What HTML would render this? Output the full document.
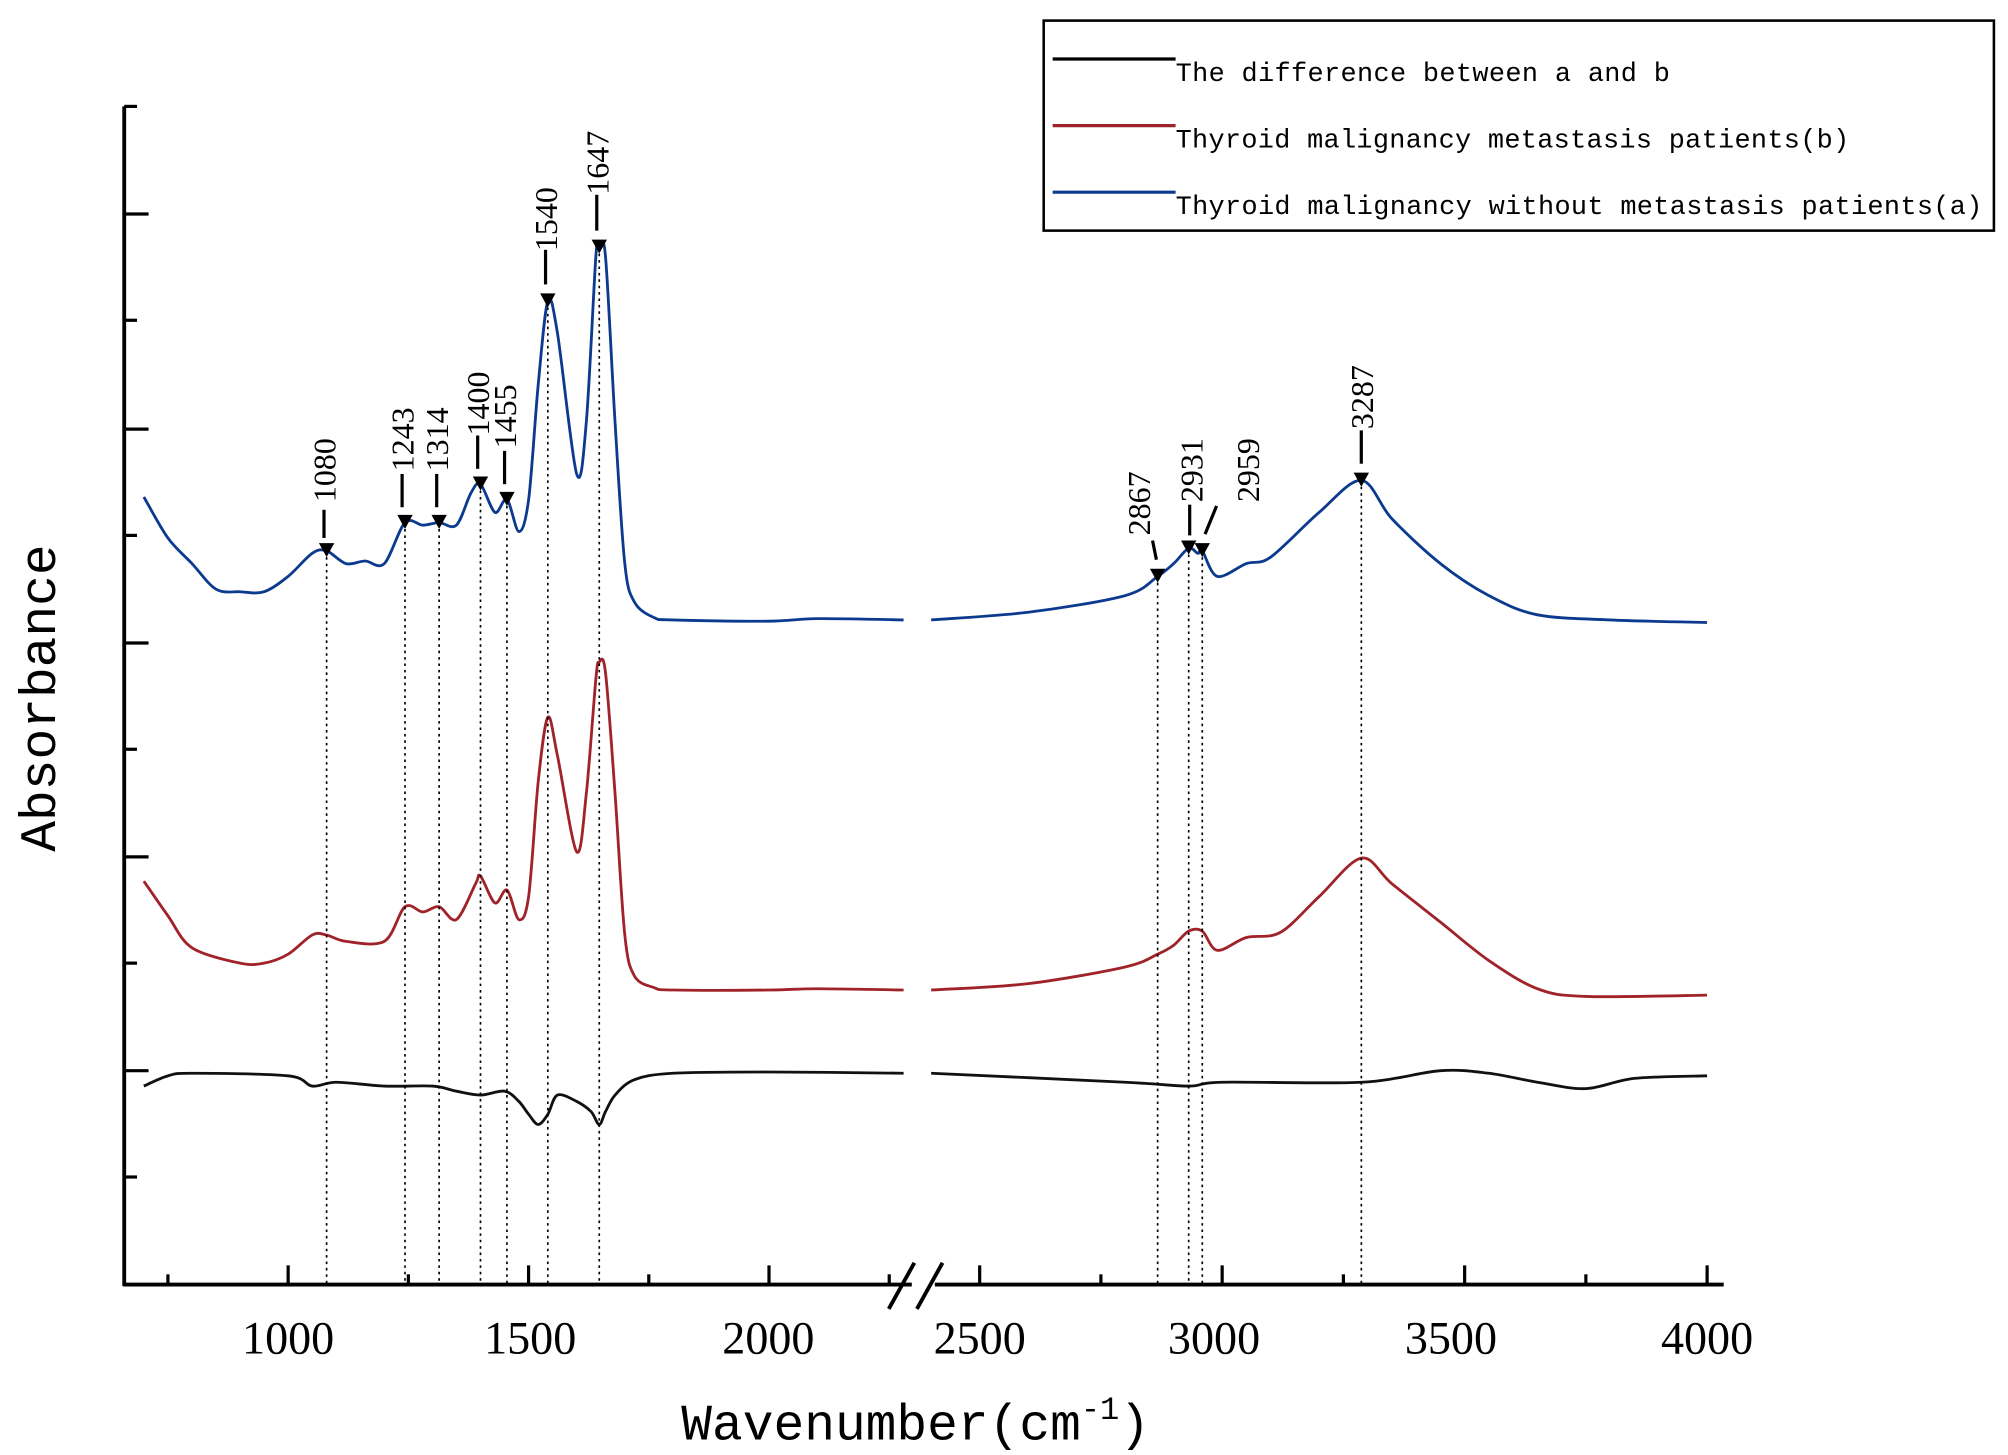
<!DOCTYPE html>
<html><head><meta charset="utf-8"><style>
html,body{margin:0;padding:0;background:#fff;}
svg{display:block;}
</style></head><body>
<svg id="s" width="2008" height="1455" viewBox="0 0 1568 1136" xmlns="http://www.w3.org/2000/svg" font-family="'Liberation Serif', serif">
<rect width="1568" height="1136" fill="#fff"/>
<g id="curves"></g>
<g id="guides" stroke="#000" stroke-width="1.3" stroke-dasharray="2,3"></g>
<g id="marks" fill="#000"></g>
<g stroke="#000" stroke-width="3" fill="none">
<line x1="97" y1="83" x2="97" y2="1004"/>
<line x1="96" y1="1003" x2="712" y2="1003"/>
<line x1="730" y1="1003" x2="1346" y2="1003"/>
<line x1="694" y1="1022" x2="714" y2="986"/>
<line x1="716" y1="1022" x2="736" y2="986"/>
</g>
<g id="ticks" stroke="#000" stroke-width="2.5"></g>
<g font-size="36" text-anchor="middle" fill="#000">
<text x="225" y="1057">1000</text><text x="414" y="1057">1500</text><text x="600" y="1057">2000</text>
<text x="765" y="1057">2500</text><text x="948" y="1057">3000</text><text x="1133" y="1057">3500</text><text x="1333" y="1057">4000</text>
</g>
<text x="715" y="1124" font-size="40" text-anchor="middle" font-family="'Liberation Mono', monospace">Wavenumber(cm<tspan font-size="25" dy="-16">-1</tspan><tspan dy="16">)</tspan></text>
<text transform="translate(43,545) rotate(-90)" font-size="40" text-anchor="middle" font-family="'Liberation Mono', monospace">Absorbance</text>
<g font-size="25" fill="#000">
<text transform="translate(262,392) rotate(-90)">1080</text>
<text transform="translate(323,368) rotate(-90)">1243</text>
<text transform="translate(350,368) rotate(-90)">1314</text>
<text transform="translate(382,340) rotate(-90)">1400</text>
<text transform="translate(403,350) rotate(-90)">1455</text>
<text transform="translate(435,196) rotate(-90)">1540</text>
<text transform="translate(475,152) rotate(-90)">1647</text>
<text transform="translate(898,418) rotate(-90)">2867</text>
<text transform="translate(939,392) rotate(-90)">2931</text>
<text transform="translate(983,392) rotate(-90)">2959</text>
<text transform="translate(1072,335) rotate(-90)">3287</text>
</g>
<g stroke="#000" stroke-width="2.5">
<line x1="253" y1="398" x2="253" y2="420"/>
<line x1="314" y1="370" x2="314" y2="396"/>
<line x1="341" y1="370" x2="341" y2="396"/>
<line x1="373" y1="340" x2="373" y2="366"/>
<line x1="394" y1="352" x2="394" y2="378"/>
<line x1="426" y1="195" x2="426" y2="222"/>
<line x1="466" y1="152" x2="466" y2="180"/>
<line x1="900" y1="422" x2="903" y2="437"/>
<line x1="929" y1="394" x2="929" y2="418"/>
<line x1="950" y1="395" x2="941" y2="417"/>
<line x1="1063" y1="336" x2="1063" y2="362"/>
</g>
<rect x="815" y="16" width="742" height="164" fill="#fff" stroke="#000" stroke-width="2"/>
<g stroke-width="2.5">
<line x1="822" y1="46" x2="918" y2="46" stroke="#000"/>
<line x1="822" y1="98" x2="918" y2="98" stroke="#a0232a"/>
<line x1="822" y1="150" x2="918" y2="150" stroke="#0b3a8f"/>
</g>
<g font-size="21" font-family="'Liberation Mono', monospace" fill="#000">
<text x="918" y="63" textLength="386">The difference between a and b</text>
<text x="918" y="115" textLength="526">Thyroid malignancy metastasis patients(b)</text>
<text x="918" y="167" textLength="630">Thyroid malignancy without metastasis patients(a)</text>
</g>
</svg>
<script>
function X(v){return v<=2300?225+(v-1000)*0.3755:765+(v-2500)*0.3787;}
var blue=[[700,388],[750,420],[800,440],[850,460],[900,462],[950,462],[1000,450],[1050,432],[1080,430],[1120,440],[1160,438],[1200,440],[1243,408],[1280,410],[1314,408],[1350,410],[1380,385],[1400,378],[1430,400],[1455,390],[1480,415],[1500,390],[1520,300],[1540,235],[1560,260],[1600,370],[1620,330],[1640,200],[1647,193],[1660,200],[1680,330],[1700,440],[1720,470],[1760,482],[1800,484],[2000,485],[2100,483],[2280,484]];
var blueR=[[2400,484],[2600,478],[2800,465],[2867,450],[2900,440],[2931,428],[2950,432],[2959,430],[2990,450],[3050,440],[3100,435],[3200,400],[3287,375],[3350,405],[3450,440],[3550,465],[3650,480],[3800,484],[4000,486]];
var red=[[700,688],[750,715],[800,740],[900,752],[950,752],[1000,745],[1050,730],[1080,730],[1120,735],[1200,735],[1243,708],[1280,712],[1314,708],[1350,718],[1390,690],[1400,684],[1430,705],[1455,695],[1480,718],[1500,700],[1520,610],[1540,560],[1560,590],[1600,665],[1620,620],[1640,530],[1647,517],[1660,525],[1680,620],[1700,730],[1720,762],[1760,771],[1800,773],[2000,773],[2100,772],[2280,773]];
var redR=[[2400,773],[2600,768],[2800,755],[2867,745],[2900,738],[2931,727],[2959,727],[2990,742],[3050,732],[3120,728],[3200,700],[3287,670],[3350,690],[3450,720],[3550,750],[3650,772],[3750,778],[4000,777]];
var blk=[[700,848],[750,840],[800,838],[1000,840],[1050,848],[1100,845],[1200,848],[1300,848],[1350,852],[1400,855],[1450,852],[1480,860],[1500,870],[1520,878],[1540,870],[1560,855],[1600,860],[1630,868],[1647,878],[1660,868],[1680,855],[1720,843],[1800,838],[2000,837],[2280,838]];
var blkR=[[2400,838],[2800,845],[2931,848],[3000,845],[3287,845],[3450,836],[3550,838],[3650,845],[3750,850],[3850,842],[4000,840]];
function path(p){var q=p.map(function(a){return [X(a[0]),a[1]];});var d='M'+q[0][0].toFixed(1)+','+q[0][1];
for(var i=0;i<q.length-1;i++){var p0=q[i-1]||q[i],p1=q[i],p2=q[i+1],p3=q[i+2]||p2;var t=0.16;
var c1=[p1[0]+(p2[0]-p0[0])*t,p1[1]+(p2[1]-p0[1])*t],c2=[p2[0]-(p3[0]-p1[0])*t,p2[1]-(p3[1]-p1[1])*t];
d+=' C'+c1[0].toFixed(1)+','+c1[1].toFixed(1)+' '+c2[0].toFixed(1)+','+c2[1].toFixed(1)+' '+p2[0].toFixed(1)+','+p2[1];}return d;}
var ns='http://www.w3.org/2000/svg',g=document.getElementById('curves');
[[blue,'#0b3a8f'],[blueR,'#0b3a8f'],[red,'#a0232a'],[redR,'#a0232a'],[blk,'#111'],[blkR,'#111']].forEach(function(a){var e=document.createElementNS(ns,'path');e.setAttribute('d',path(a[0]));e.setAttribute('fill','none');e.setAttribute('stroke',a[1]);e.setAttribute('stroke-width','2.2');e.setAttribute('stroke-linejoin','round');g.appendChild(e);});
var pk=[[1080,430],[1243,408],[1314,408],[1400,378],[1455,390],[1540,235],[1647,193],[2867,450],[2931,428],[2959,430],[3287,375]];
var gd=document.getElementById('guides'),mk=document.getElementById('marks');
pk.forEach(function(p){var x=X(p[0]);var l=document.createElementNS(ns,'line');l.setAttribute('x1',x);l.setAttribute('x2',x);l.setAttribute('y1',p[1]);l.setAttribute('y2',1003);gd.appendChild(l);
var t=document.createElementNS(ns,'polygon');t.setAttribute('points',(x-6)+','+(p[1]-6)+' '+(x+6)+','+(p[1]-6)+' '+x+','+(p[1]+5));mk.appendChild(t);});
var tk=document.getElementById('ticks');
function ln(a,b,c,d){var l=document.createElementNS(ns,'line');l.setAttribute('x1',a);l.setAttribute('y1',b);l.setAttribute('x2',c);l.setAttribute('y2',d);tk.appendChild(l);}
[167,335,502,669,836].forEach(function(y){ln(97,y,116,y);});
[83,250,418,585,752,919].forEach(function(y){ln(97,y,107,y);});
[1000,1500,2000,2500,3000,3500,4000].forEach(function(v){ln(X(v),1003,X(v),988);});
[750,1250,1750,2250,2750,3250,3750].forEach(function(v){ln(X(v),1003,X(v),995);});
</script>
</body></html>
